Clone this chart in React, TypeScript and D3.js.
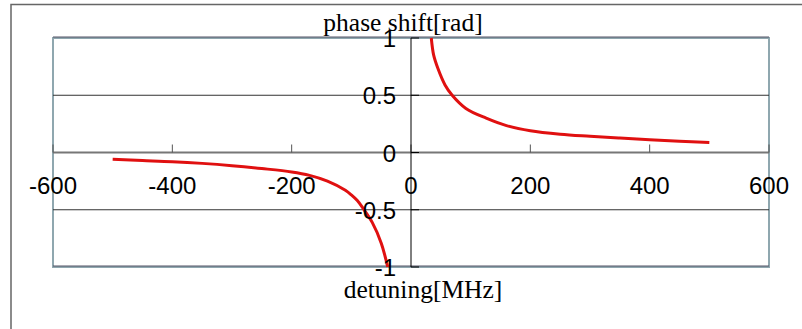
import React, { useEffect, useRef } from 'react';
import * as d3 from 'd3';

// detuning [MHz] vs phase shift [rad]
const negDetuning = [-500, -450, -400, -350, -300, -250, -200, -170, -140, -110, -100, -90, -80, -65, -50, -39];
const negPhase = [-0.06, -0.07, -0.08, -0.095, -0.115, -0.14, -0.17, -0.2, -0.25, -0.33, -0.37, -0.42, -0.49, -0.61, -0.79, -1.0];

const posDetuning = [34, 38, 45, 57, 69, 92, 126, 160, 200, 250, 300, 350, 400, 450, 500];
const posPhase = [1.0, 0.85, 0.735, 0.59, 0.5, 0.385, 0.3, 0.235, 0.19, 0.16, 0.142, 0.126, 0.111, 0.098, 0.087];

const xTicks = [-600, -400, -200, 0, 200, 400, 600];
const yTicks = [-1, -0.5, 0, 0.5, 1];

const App = () => {
  const svgRef = useRef(null);

  useEffect(() => {
    const width = 802;
    const height = 329;
    const plot = { left: 53, right: 769, top: 38, bottom: 267 };

    const svg = d3.select(svgRef.current);
    svg.selectAll('*').remove();
    svg.attr('width', width).attr('height', height);

    const x = d3.scaleLinear().domain([-600, 600]).range([plot.left, plot.right]);
    const y = d3.scaleLinear().domain([-1, 1]).range([plot.bottom, plot.top]);

    // outer frame (runs off the right and bottom edge)
    svg.append('path')
      .attr('d', `M11,${height + 5}V4.5H${width + 5}`)
      .attr('fill', 'none')
      .attr('stroke', '#666')
      .attr('stroke-width', 1.5);

    // plot area border
    svg.append('rect')
      .attr('x', plot.left)
      .attr('y', plot.top)
      .attr('width', plot.right - plot.left)
      .attr('height', plot.bottom - plot.top)
      .attr('fill', 'none')
      .attr('stroke', '#8fa7af')
      .attr('stroke-width', 2);

    // horizontal gridlines
    svg.selectAll('line.grid')
      .data(yTicks.filter(d => d !== 0))
      .join('line')
      .attr('class', 'grid')
      .attr('x1', plot.left)
      .attr('x2', plot.right)
      .attr('y1', d => y(d) - (Math.abs(d) === 1 ? 1 : 0))
      .attr('y2', d => y(d) - (Math.abs(d) === 1 ? 1 : 0))
      .attr('stroke', d => (Math.abs(d) === 1 ? '#556' : '#333'))
      .attr('stroke-width', 1);

    // x axis at y = 0
    svg.append('line')
      .attr('x1', plot.left)
      .attr('x2', plot.right)
      .attr('y1', y(0))
      .attr('y2', y(0))
      .attr('stroke', '#777')
      .attr('stroke-width', 2);

    svg.selectAll('line.xtick')
      .data(xTicks)
      .join('line')
      .attr('class', 'xtick')
      .attr('x1', d => x(d))
      .attr('x2', d => x(d))
      .attr('y1', y(0) - 8)
      .attr('y2', y(0))
      .attr('stroke', '#555')
      .attr('stroke-width', 1);

    // y axis at x = 0
    svg.append('line')
      .attr('x1', x(0))
      .attr('x2', x(0))
      .attr('y1', plot.top)
      .attr('y2', plot.bottom)
      .attr('stroke', '#000')
      .attr('stroke-width', 1);

    svg.selectAll('line.ytick')
      .data(yTicks)
      .join('line')
      .attr('class', 'ytick')
      .attr('x1', x(0))
      .attr('x2', x(0) + 8)
      .attr('y1', d => y(d))
      .attr('y2', d => y(d))
      .attr('stroke', '#000')
      .attr('stroke-width', 1);

    // curves
    const line = d3.line()
      .x(d => x(d[0]))
      .y(d => y(d[1]))
      .curve(d3.curveCatmullRom.alpha(0.5));

    const branches = [
      negDetuning.map((d, i) => [d, negPhase[i]]),
      posDetuning.map((d, i) => [d, posPhase[i]]),
    ];

    svg.selectAll('path.curve')
      .data(branches)
      .join('path')
      .attr('class', 'curve')
      .attr('d', d => line(d))
      .attr('fill', 'none')
      .attr('stroke', '#e01010')
      .attr('stroke-width', 3)
      .attr('stroke-linejoin', 'round');

    // tick labels
    svg.selectAll('text.xlabel')
      .data(xTicks)
      .join('text')
      .attr('class', 'xlabel')
      .attr('x', d => x(d))
      .attr('y', y(0) + 41.5)
      .attr('text-anchor', 'middle')
      .style('font-family', '"Liberation Sans", Arial, sans-serif')
      .style('font-size', '24px')
      .attr('fill', '#000')
      .text(d => d);

    svg.selectAll('text.ylabel')
      .data(yTicks)
      .join('text')
      .attr('class', 'ylabel')
      .attr('x', x(0) - 15)
      .attr('y', d => y(d) + 9)
      .attr('text-anchor', 'end')
      .style('font-family', '"Liberation Sans", Arial, sans-serif')
      .style('font-size', '24px')
      .attr('fill', '#000')
      .text(d => d);

    // axis titles
    svg.append('text')
      .attr('x', 403)
      .attr('y', 31)
      .attr('text-anchor', 'middle')
      .style('font-family', '"Liberation Serif", "Times New Roman", serif')
      .style('font-size', '25.5px')
      .text('phase shift[rad]');

    svg.append('text')
      .attr('x', 423)
      .attr('y', 298)
      .attr('text-anchor', 'middle')
      .style('font-family', '"Liberation Serif", "Times New Roman", serif')
      .style('font-size', '25.5px')
      .text('detuning[MHz]');
  }, []);

  return (
    <svg
      ref={svgRef}
      style={{ position: 'absolute', left: 0, top: 0, background: '#fff' }}
    />
  );
};

export default App;
